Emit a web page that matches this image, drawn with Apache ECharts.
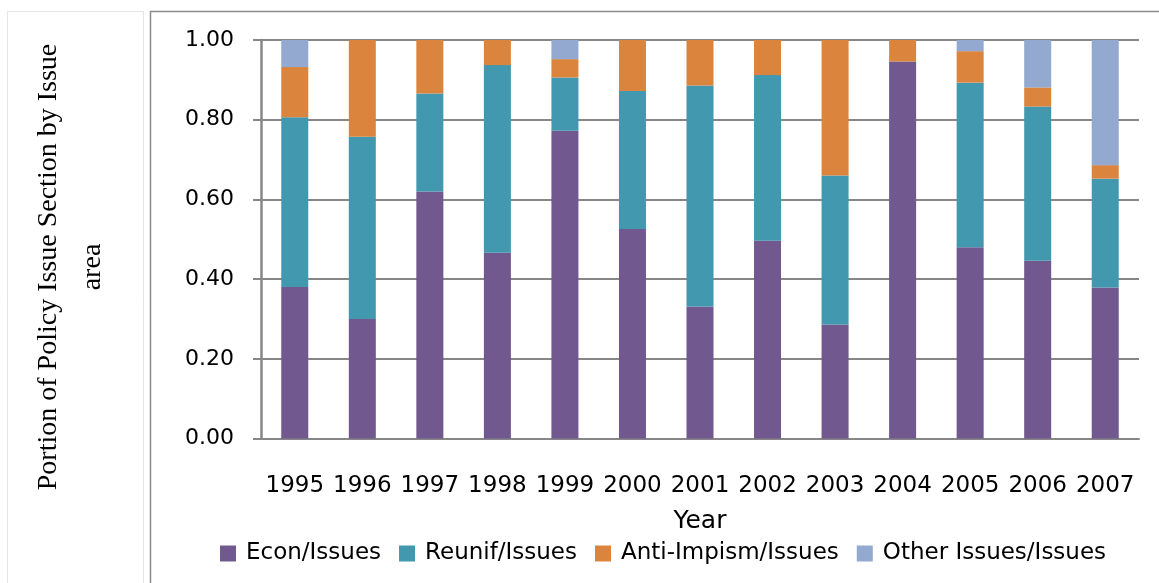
<!DOCTYPE html>
<html>
<head>
<meta charset="utf-8">
<script src="https://cdn.jsdelivr.net/npm/echarts@6/dist/echarts.min.js"></script>
<style>html,body{margin:0;padding:0;background:#fff}#c{width:1159px;height:583px}</style>
</head>
<body>
<div id="c"></div>
<script>
const years = ['1995','1996','1997','1998','1999','2000','2001','2002','2003','2004','2005','2006','2007'];
const econ   = [0.380, 0.300, 0.620, 0.466, 0.772, 0.526, 0.331, 0.496, 0.286, 0.946, 0.480, 0.446, 0.379];
const reunif = [0.426, 0.457, 0.246, 0.471, 0.134, 0.346, 0.555, 0.416, 0.374, 0.000, 0.413, 0.387, 0.273];
const anti   = [0.126, 0.243, 0.134, 0.063, 0.046, 0.128, 0.114, 0.088, 0.340, 0.054, 0.079, 0.048, 0.034];
const other  = [0.068, 0.000, 0.000, 0.000, 0.048, 0.000, 0.000, 0.000, 0.000, 0.000, 0.028, 0.119, 0.314];
const seriesNames = ['Econ/Issues', 'Reunif/Issues', 'Anti-Impism/Issues', 'Other Issues/Issues'];
const yTicks = [0, 0.2, 0.4, 0.6, 0.8, 1.0];

const colors = ['#71588F', '#4198AF', '#DB843D', '#93A9CF'];
const sans = 'DejaVu Sans';
const chart = echarts.init(document.getElementById('c'), null, {renderer: 'canvas'});
const mk = (name, data, i) => ({
  name, type: 'bar', stack: 'total', data, barWidth: '40%',
  itemStyle: {color: colors[i]}, emphasis: {disabled: true}
});
chart.setOption({
  animation: false,
  color: colors,
  grid: {left: 261, right: 20, top: 40, bottom: 144.5, containLabel: false},
  graphic: [
    {type: 'rect', shape: {x: 7.5, y: 11.5, width: 136, height: 590}, style: {fill: 'none', stroke: '#e3e3e3', lineWidth: 1}},
    {type: 'rect', shape: {x: 150.5, y: 11.5, width: 1020, height: 590}, style: {fill: 'none', stroke: '#8c8c8c', lineWidth: 1.5}},
    {type: 'text', x: 71, y: 267, rotation: Math.PI / 2,
      style: {text: 'Portion of Policy Issue Section by Issue\narea', font: '28px "Liberation Serif"', fill: '#000',
        align: 'center', verticalAlign: 'middle', lineHeight: 44}}
  ],
  legend: {
    left: 215, top: 537, itemWidth: 16, itemHeight: 16, itemGap: 18, icon: 'rect',
    data: seriesNames,
    textStyle: {fontFamily: sans, fontSize: 23, color: '#000', padding: [0, 0, 0, 5]}
  },
  xAxis: {
    type: 'category', data: years,
    name: 'Year', nameLocation: 'middle', nameGap: 70,
    nameTextStyle: {fontFamily: sans, fontSize: 25, color: '#000'},
    axisLine: {show: true, lineStyle: {color: '#878787', width: 2}},
    axisTick: {show: false},
    axisLabel: {fontFamily: sans, fontSize: 23, color: '#000', margin: 36, interval: 0}
  },
  yAxis: {
    type: 'value', min: yTicks[0], max: yTicks[yTicks.length - 1], interval: 0.2,
    axisLine: {show: true, lineStyle: {color: '#878787', width: 2.5}},
    axisTick: {show: true, length: 8, lineStyle: {color: '#878787', width: 2}},
    splitLine: {show: true, lineStyle: {color: '#878787', width: 2}},
    axisLabel: {fontFamily: sans, fontSize: 22, color: '#000', margin: 27, formatter: v => v.toFixed(2)}
  },
  series: [mk(seriesNames[0], econ, 0), mk(seriesNames[1], reunif, 1), mk(seriesNames[2], anti, 2), mk(seriesNames[3], other, 3)]
});
</script>
</body>
</html>
